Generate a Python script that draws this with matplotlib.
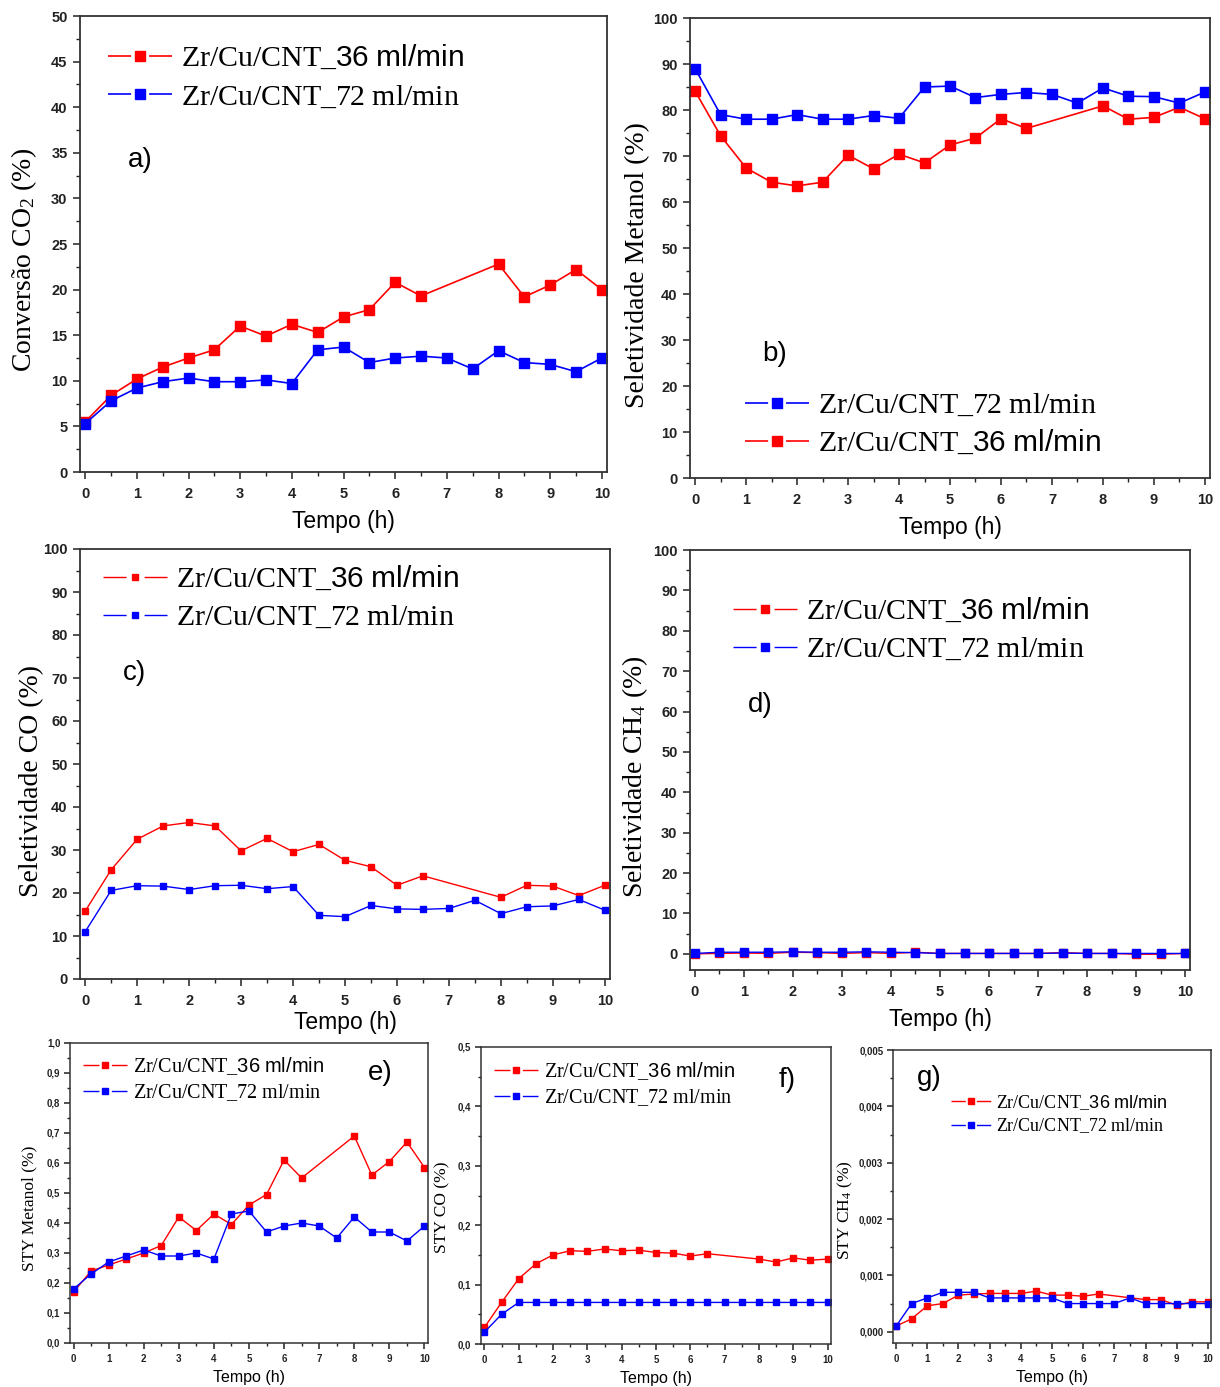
import matplotlib
matplotlib.use("Agg")
import matplotlib.pyplot as plt
from matplotlib.ticker import MultipleLocator, FuncFormatter
from matplotlib.lines import Line2D
from matplotlib.legend_handler import HandlerTuple

plt.rcParams['mathtext.fontset'] = 'custom'
plt.rcParams['mathtext.rm'] = 'Liberation Serif'
plt.rcParams['mathtext.sf'] = 'Liberation Sans'
plt.rcParams['mathtext.it'] = 'Liberation Serif:italic'
plt.rcParams['lines.scale_dashes'] = False

W, H = 1220, 1387
RED = '#ff0000'
BLUE = '#0000ff'

# ---------------- data ----------------
t_all = [0, 0.5, 1, 1.5, 2, 2.5, 3, 3.5, 4, 4.5, 5, 5.5, 6, 6.5, 7, 7.5, 8, 8.5, 9, 9.5, 10]
t_skip = [0, 0.5, 1, 1.5, 2, 2.5, 3, 3.5, 4, 4.5, 5, 5.5, 6, 6.5, 8, 8.5, 9, 9.5, 10]

conv_36 = [5.5, 8.4, 10.2, 11.5, 12.5, 13.4, 16.0, 14.9, 16.2, 15.3, 17.0, 17.8, 20.8, 19.3, 22.8, 19.2, 20.5, 22.2, 20.0]
conv_72 = [5.3, 7.8, 9.2, 9.9, 10.3, 9.9, 9.9, 10.1, 9.7, 13.4, 13.7, 12.0, 12.5, 12.7, 12.5, 11.3, 13.3, 12.0, 11.8, 11.0, 12.5]

selmet_36 = [84.1, 74.4, 67.4, 64.3, 63.5, 64.3, 70.2, 67.2, 70.4, 68.5, 72.4, 73.9, 78.1, 76.0, 80.9, 78.0, 78.4, 80.6, 78.1]
selmet_72 = [89.0, 79.0, 78.0, 78.0, 79.0, 78.0, 78.0, 78.8, 78.2, 85.0, 85.2, 82.7, 83.4, 83.8, 83.4, 81.5, 84.8, 83.0, 82.9, 81.5, 83.9]

selco_36 = [15.8, 25.4, 32.5, 35.6, 36.4, 35.6, 29.8, 32.7, 29.6, 31.3, 27.6, 26.1, 21.8, 24.0, 19.0, 21.8, 21.6, 19.4, 21.8]
selco_72 = [11.0, 20.6, 21.7, 21.6, 20.8, 21.7, 21.8, 21.0, 21.5, 14.8, 14.5, 17.1, 16.3, 16.2, 16.4, 18.3, 15.2, 16.8, 17.0, 18.5, 16.0]

selch4_36 = [0.0, 0.1, 0.2, 0.1, 0.4, 0.3, 0.1, 0.3, 0.1, 0.4, 0.1, 0.1, 0.1, 0.1, 0.1, 0.3, 0.1, 0.1, -0.1, -0.1, 0.1]
selch4_72 = [0.1, 0.4, 0.4, 0.4, 0.5, 0.4, 0.4, 0.5, 0.4, 0.3, 0.1, 0.1, 0.1, 0.1, 0.1, 0.2, 0.1, 0.1, 0.1, 0.1, 0.1]

stymet_36 = [0.17, 0.24, 0.26, 0.28, 0.30, 0.325, 0.42, 0.375, 0.43, 0.395, 0.46, 0.495, 0.61, 0.55, 0.69, 0.56, 0.605, 0.67, 0.585]
stymet_72 = [0.18, 0.23, 0.27, 0.29, 0.31, 0.29, 0.29, 0.30, 0.28, 0.43, 0.44, 0.37, 0.39, 0.40, 0.39, 0.35, 0.42, 0.37, 0.37, 0.34, 0.39]

styco_36 = [0.028, 0.070, 0.110, 0.135, 0.150, 0.157, 0.156, 0.160, 0.157, 0.158, 0.154, 0.153, 0.148, 0.152, 0.143, 0.138, 0.145, 0.141, 0.143]
styco_72 = [0.020, 0.050, 0.070, 0.070, 0.070, 0.070, 0.070, 0.070, 0.070, 0.070, 0.070, 0.070, 0.070, 0.070, 0.070, 0.070, 0.070, 0.070, 0.070, 0.070, 0.070]

stych4_36 = [0.00010, 0.00023, 0.00046, 0.00050, 0.00065, 0.00067, 0.00068, 0.00068, 0.00068, 0.00072, 0.00065, 0.00065, 0.00063, 0.00067, 0.00057, 0.00057, 0.00047, 0.00053, 0.00053]
stych4_72 = [0.00010, 0.00050, 0.00060, 0.00070, 0.00070, 0.00070, 0.00060, 0.00060, 0.00060, 0.00060, 0.00060, 0.00050, 0.00050, 0.00050, 0.00050, 0.00060, 0.00050, 0.00050, 0.00050, 0.00050, 0.00050]

LAB36 = r'$\mathrm{Zr/Cu/CNT\_}\mathsf{36\ ml/min}$'
LAB72 = r'$\mathrm{Zr/Cu/CNT\_72\ ml/min}$'

fig = plt.figure(figsize=(W / 100, H / 100), dpi=100)


def px_axes(l, t, r, b):
    ax = fig.add_axes([l / W, 1 - b / H, (r - l) / W, (b - t) / H])
    ax._px = (l, t, r, b)
    return ax


def style(ax, ylim, ymajor, yminor, tick_fs, xlab_fs, ylab, ylab_fs, ylab_px, fmt=None,
          lw_sp=1.3, xpad=6, ypad=4, xlp=6, tlen=5):
    ax.set_xlim(-0.1, 10.1)
    ax.set_ylim(*ylim)
    ax.xaxis.set_major_locator(MultipleLocator(1))
    ax.xaxis.set_minor_locator(MultipleLocator(0.5))
    ax.yaxis.set_major_locator(MultipleLocator(ymajor))
    ax.yaxis.set_minor_locator(MultipleLocator(yminor))
    if fmt is not None:
        ax.yaxis.set_major_formatter(FuncFormatter(fmt))
    ax.tick_params(which='both', direction='out', top=False, right=False, colors='#222222')
    ax.tick_params(which='major', length=tlen, width=1.1)
    ax.tick_params(which='minor', length=tlen * 0.6, width=1.0)
    ax.tick_params(axis='x', which='major', pad=xpad)
    ax.tick_params(axis='y', which='major', pad=ypad)
    for lab in ax.get_xticklabels() + ax.get_yticklabels():
        lab.set_fontfamily('Liberation Sans')
        lab.set_fontweight('bold')
        lab.set_fontsize(tick_fs)
    for sp in ax.spines.values():
        sp.set_linewidth(lw_sp)
        sp.set_color('#333333')
    ax.set_xlabel('Tempo (h)', fontfamily='Liberation Sans', fontsize=xlab_fs, labelpad=xlp)
    ax.set_ylabel(ylab, fontfamily='Liberation Serif', fontsize=ylab_fs)
    l, t, r, b = ax._px
    xpx, ypx = ylab_px
    ax.yaxis.set_label_coords((xpx - l) / (r - l), (b - ypx) / (b - t))


def legend_handle(color, ms, hl_pt, lw):
    seg = 0.36 * hl_pt
    gap = 0.28 * hl_pt
    ln = Line2D([], [], color=color, lw=lw, linestyle=(0, (seg, gap, seg, 1000)))
    mk = Line2D([], [], color=color, marker='s', ms=ms, linestyle='none')
    return (ln, mk)


def legend_px(ax, specs, labels, x, y, fs, hl, spacing, ms, lw):
    handles = [legend_handle(c, ms, hl * fs, lw) for c in specs]
    ax.legend(handles, labels, loc='upper left', bbox_to_anchor=(x / W, 1 - y / H),
              bbox_transform=fig.transFigure, frameon=False, fontsize=fs,
              handlelength=hl, handletextpad=0.3, labelspacing=spacing,
              borderpad=0, borderaxespad=0, numpoints=1,
              handler_map={tuple: HandlerTuple(ndivide=1, pad=0)})


def panel_label(s, x, y):
    fig.text(x / W, 1 - y / H, s, fontfamily='Liberation Sans', fontsize=20,
             ha='left', va='center')


def comma(nd):
    return lambda v, p: (f'{v:.{nd}f}').replace('.', ',')


BIG = dict(tick_fs=10.5, xlab_fs=16.5, ylab_fs=20)
SMALL = dict(tick_fs=7, xlab_fs=11.5, ylab_fs=12.5, lw_sp=1.1, xpad=4, ypad=3, xlp=4, tlen=4)

# ---------------- a) ----------------
ax = px_axes(80, 16, 607, 472)
ax.plot(t_skip, conv_36, '-s', color=RED, ms=7, lw=1.2)
ax.plot(t_all, conv_72, '-s', color=BLUE, ms=7, lw=1.2)
style(ax, (0, 50), 5, 2.5, ylab=r'Conversão CO$_2$ (%)', ylab_px=(39, 260), **BIG)
legend_px(ax, [RED, BLUE], [LAB36, LAB72], 108, 43, 21.5, 2.15, 0.32, 7, 1.2)
panel_label('a)', 128, 160)

# ---------------- b) ----------------
ax = px_axes(690, 18, 1210, 478)
ax.plot(t_skip, selmet_36, '-s', color=RED, ms=7, lw=1.2)
ax.plot(t_all, selmet_72, '-s', color=BLUE, ms=7, lw=1.2)
style(ax, (0, 100), 10, 5, ylab='Seletividade Metanol (%)', ylab_px=(650, 265), **BIG)
legend_px(ax, [BLUE, RED], [LAB72, LAB36], 745, 390, 21.5, 2.15, 0.3, 7, 1.2)
panel_label('b)', 762, 354)

# ---------------- c) ----------------
ax = px_axes(80, 549, 610, 979)
ax.plot(t_skip, selco_36, '-s', color=RED, ms=4.5, lw=1.0)
ax.plot(t_all, selco_72, '-s', color=BLUE, ms=4.5, lw=1.0)
style(ax, (0, 100), 10, 5, ylab='Seletividade CO (%)', ylab_px=(44, 781), xlp=2, **BIG)
legend_px(ax, [RED, BLUE], [LAB36, LAB72], 103, 564, 21.5, 2.15, 0.3, 4.5, 1.0)
panel_label('c)', 123, 673)

# ---------------- d) ----------------
ax = px_axes(690, 550, 1190, 970)
ax.plot(t_all, selch4_36, '-s', color=RED, ms=6, lw=1.0)
ax.plot(t_all, selch4_72, '-s', color=BLUE, ms=6, lw=1.0)
style(ax, (-4, 100), 10, 5, ylab=r'Seletividade CH$_4$ (%)', ylab_px=(650, 777), **BIG)
legend_px(ax, [RED, BLUE], [LAB36, LAB72], 733, 596, 21.5, 2.15, 0.3, 6, 1.0)
panel_label('d)', 748, 705)

# ---------------- e) ----------------
ax = px_axes(70, 1043, 428, 1343)
ax.plot(t_skip, stymet_36, '-s', color=RED, ms=5, lw=1.0)
ax.plot(t_all, stymet_72, '-s', color=BLUE, ms=5, lw=1.0)
style(ax, (0, 1.0), 0.1, 0.05, ylab='STY Metanol (%)', ylab_px=(37, 1208), fmt=comma(1), **SMALL)
legend_px(ax, [RED, BLUE], [LAB36, LAB72], 83, 1055, 14.5, 2.2, 0.27, 5, 1.0)
panel_label('e)', 368, 1073)

# ---------------- f) ----------------
ax = px_axes(481, 1047, 831, 1344)
ax.plot(t_skip, styco_36, '-s', color=RED, ms=5, lw=1.0)
ax.plot(t_all, styco_72, '-s', color=BLUE, ms=5, lw=1.0)
style(ax, (0, 0.5), 0.1, 0.05, ylab='STY CO (%)', ylab_px=(450, 1207), fmt=comma(1), **SMALL)
legend_px(ax, [RED, BLUE], [LAB36, LAB72], 494, 1060, 14.5, 2.2, 0.27, 5, 1.0)
panel_label('f)', 779, 1080)

# ---------------- g) ----------------
ax = px_axes(893, 1050, 1211, 1343)
ax.plot(t_skip, stych4_36, '-s', color=RED, ms=5, lw=1.0)
ax.plot(t_all, stych4_72, '-s', color=BLUE, ms=5, lw=1.0)
style(ax, (-0.0002, 0.005), 0.001, 0.0005, ylab=r'STY CH$_4$ (%)', ylab_px=(855, 1210), fmt=comma(3), **SMALL)
legend_px(ax, [RED, BLUE], [LAB36, LAB72], 951, 1093, 13, 2.2, 0.27, 5, 1.0)
panel_label('g)', 917, 1078)

fig.savefig('out.png', dpi=100)
